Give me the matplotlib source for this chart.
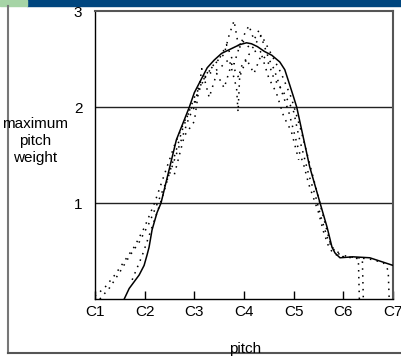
import matplotlib
matplotlib.use("Agg")
import matplotlib.pyplot as plt
from matplotlib.patches import Rectangle
from matplotlib.lines import Line2D

plt.rcParams['font.family'] = ['Liberation Sans', 'DejaVu Sans']

# octave positions: C1 = 1 ... C7 = 7
tick_pos = [1, 2, 3, 4, 5, 6, 7]
tick_labels = ["C1", "C2", "C3", "C4", "C5", "C6", "C7"]

# solid curve: maximum pitch weight
solid_x = [1.59, 1.69, 1.89, 1.99, 2.05, 2.09, 2.15, 2.25, 2.33, 2.64, 2.9, 3.0,
           3.1, 3.26, 3.4, 3.55, 3.71, 3.91, 4.05, 4.15, 4.27, 4.41, 4.56, 4.72,
           4.82, 4.92, 5.0, 5.06, 5.32, 5.53, 5.67, 5.77, 5.83, 5.93, 6.19, 6.53,
           7.0]
solid_y = [0.0, 0.11, 0.25, 0.35, 0.46, 0.54, 0.72, 0.9, 1.0, 1.66, 2.0, 2.15,
           2.25, 2.41, 2.49, 2.56, 2.6, 2.65, 2.67, 2.66, 2.63, 2.58, 2.54, 2.47,
           2.39, 2.23, 2.1, 2.0, 1.38, 1.0, 0.75, 0.54, 0.48, 0.43, 0.44, 0.43,
           0.35]

# dotted traces (individual measurements)
dot_a_x = [1.0, 1.2, 1.4, 1.6, 1.8, 2.0, 2.2, 2.4, 2.6, 2.8, 3.0, 3.2, 3.4, 3.6,
           3.7, 3.8, 3.9, 4.0, 4.1, 4.2, 4.3, 4.4, 4.5, 4.6, 4.7, 4.8, 4.9, 5.0,
           5.1, 5.2, 5.3, 5.4, 5.5, 5.6, 5.7, 5.8, 6.0, 6.2, 6.3, 6.32]
dot_a_y = [0.03, 0.12, 0.25, 0.4, 0.55, 0.75, 1.0, 1.3, 1.6, 1.85, 2.05, 2.3, 2.45,
           2.55, 2.75, 2.9, 2.6, 2.75, 2.85, 2.7, 2.8, 2.65, 2.5, 2.4, 2.25, 2.1,
           1.95, 1.75, 1.55, 1.4, 1.2, 1.05, 0.9, 0.7, 0.55, 0.47, 0.44, 0.43,
           0.42, 0.0]

dot_b_x = [1.1, 1.3, 1.5, 1.7, 1.9, 2.1, 2.3, 2.5, 2.7, 2.9, 3.0, 3.1, 3.3, 3.5,
           3.7, 3.85, 3.88, 3.92, 4.1, 4.3, 4.5, 4.6, 4.8, 5.0, 5.1, 5.2, 5.3,
           5.45, 5.55, 5.7, 5.85, 6.1, 6.3, 6.38, 6.4]
dot_b_y = [0.0, 0.12, 0.28, 0.45, 0.6, 0.8, 1.05, 1.3, 1.6, 1.9, 2.0, 2.25, 2.35,
           2.4, 2.5, 2.2, 1.95, 2.4, 2.55, 2.6, 2.45, 2.3, 2.15, 1.95, 1.7, 1.5,
           1.3, 1.05, 0.85, 0.6, 0.48, 0.44, 0.43, 0.42, 0.0]

dot_c_x = [1.75, 1.95, 2.15, 2.35, 2.55, 2.75, 3.0, 3.25, 3.5, 3.65, 3.8, 3.95,
           4.15, 4.35, 4.55, 4.75, 4.95, 5.15, 5.35, 5.55, 5.75, 6.0, 6.5, 6.8,
           6.9, 6.92]
dot_c_y = [0.2, 0.45, 0.75, 1.05, 1.4, 1.75, 2.1, 2.35, 2.5, 2.65, 2.45, 2.7,
           2.6, 2.75, 2.55, 2.35, 2.1, 1.75, 1.35, 0.95, 0.55, 0.44, 0.42, 0.38,
           0.3, 0.0]

dot_d_x = [2.6, 2.8, 3.0, 3.15, 3.3, 3.45, 3.6, 3.75, 3.9, 4.05, 4.2, 4.35, 4.5,
           4.65, 4.8, 4.95, 5.1]
dot_d_y = [1.3, 1.7, 1.85, 2.4, 2.1, 2.35, 2.2, 2.45, 2.3, 2.5, 2.35, 2.55, 2.3,
           2.15, 1.9, 1.75, 1.45]

fig = plt.figure(figsize=(4.02, 3.59), dpi=100)
ax = fig.add_axes([0.236, 0.167, 0.742, 0.802])

for y in [1, 2]:
    ax.axhline(y, color="#222222", linewidth=1.0, zorder=1)

dot_style = dict(color="black", linewidth=1.1, linestyle=(0, (1, 3.5)), zorder=2)
ax.plot(dot_a_x, dot_a_y, **dot_style)
ax.plot(dot_b_x, dot_b_y, **dot_style)
ax.plot(dot_c_x, dot_c_y, **dot_style)
ax.plot(dot_d_x, dot_d_y, **dot_style)
ax.plot(solid_x, solid_y, color="black", linewidth=1.1, zorder=3)

ax.set_xlim(1, 7)
ax.set_ylim(0, 3)
ax.set_xticks(tick_pos)
ax.set_xticklabels(tick_labels, fontsize=11)
ax.set_yticks([1, 2, 3])
ax.set_yticklabels(["1", "2", "3"], fontsize=11)
ax.tick_params(axis="x", direction="in", length=6, width=1, pad=4)
ax.tick_params(axis="y", length=0, pad=9)
for side in ["top", "right"]:
    ax.spines[side].set_color("#555555")
    ax.spines[side].set_linewidth(1.5)
for side in ["left", "bottom"]:
    ax.spines[side].set_linewidth(1.0)

fig.text(35 / 402, 1 - 141 / 359, "maximum\npitch\nweight", ha="center", va="center",
         fontsize=11, linespacing=1.3)
fig.text(245 / 402, 1 - 349 / 359, "pitch", ha="center", va="center", fontsize=11)

# slide decorations: banner, corner, frame lines
fig.add_artist(Rectangle((27 / 402, 1 - 6 / 359), 1, 6 / 359, transform=fig.transFigure,
                         color="#00467f", zorder=0))
fig.add_artist(Rectangle((0, 1 - 6 / 359), 27 / 402, 6 / 359, transform=fig.transFigure,
                         color="#a6d4a6", zorder=0))
fig.add_artist(Line2D([8 / 402, 8 / 402], [1 - 6 / 359, 1 - 353 / 359],
                      transform=fig.transFigure, color="#777777", linewidth=1.5))
fig.add_artist(Line2D([8 / 402, 1], [1 - 353 / 359, 1 - 353 / 359],
                      transform=fig.transFigure, color="#555555", linewidth=1.5))

fig.savefig("out.png", dpi=100)
